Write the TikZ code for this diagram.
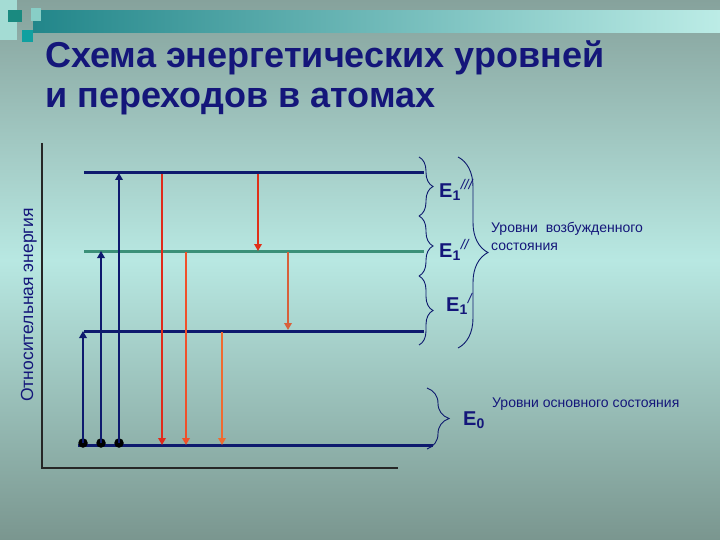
\documentclass[tikz,border=0pt]{standalone}
\usepackage{fontspec}
\setmainfont{Liberation Sans}
\usetikzlibrary{arrows.meta,decorations.pathreplacing}
\definecolor{bgtop}{HTML}{86A29C}
\definecolor{bgmid}{HTML}{B8E8E2}
\definecolor{bgbot}{HTML}{7A968F}
\definecolor{navy}{HTML}{0E1A6E}
\definecolor{txtnavy}{HTML}{14167A}
\definecolor{lvgreen}{HTML}{3A9078}
\definecolor{redA}{HTML}{E02A1A}
\definecolor{redB}{HTML}{F0502A}
\definecolor{redC}{HTML}{F06A30}
\definecolor{redD}{HTML}{E03018}
\definecolor{redE}{HTML}{D8603A}
\definecolor{bandL}{HTML}{22868A}
\definecolor{bandR}{HTML}{BCECE6}
\definecolor{decoA}{HTML}{A4DCD4}
\definecolor{decoB}{HTML}{1A8A80}
\definecolor{decoC}{HTML}{88CEC6}
\definecolor{decoD}{HTML}{10A0A0}
\tikzset{
  level/.style={line width=3pt, navy},
  uparrow/.style={line width=2.6pt, navy, -{Triangle[width=7.5pt,length=7pt]}},
  downarrow/.style={line width=2.6pt, -{Triangle[width=7.5pt,length=7pt]}},
  dot/.style={circle, fill=black, inner sep=0pt, minimum size=9.5pt},
  axisline/.style={line width=1.1pt, black!85},
  bracestyle/.style={line width=0.9pt, navy, decorate},
  elab/.style={font=\fontsize{20}{22}\selectfont\bfseries, text=txtnavy, inner sep=0pt, anchor=base west},
  smalltxt/.style={font=\fontsize{14}{16}\selectfont, text=txtnavy, inner sep=0pt, anchor=base west},
  titletxt/.style={font=\fontsize{36}{40}\selectfont\bfseries, text=txtnavy, inner sep=0pt, anchor=base west}
}
\begin{document}
\begin{tikzpicture}[x=1pt,y=-1pt]
\useasboundingbox (0,0) rectangle (720,540);
% background
\fill[top color=bgtop, bottom color=bgmid] (0,0) rectangle (720,260);
\fill[top color=bgmid, bottom color=bgbot] (0,260) rectangle (720,540);
% top decoration
\fill[left color=bandL, right color=bandR] (33,11) rectangle (720,33);
\fill[decoA] (0,0) rectangle (17,40);
\fill[decoB] (8,10) rectangle (22,22);
\fill[decoC] (31,8) rectangle (41,21);
\fill[decoD] (22,30) rectangle (33,42);
% title
\node[titletxt] (title1) at (45,68) {Схема энергетических уровней};
\node[titletxt] (title2) at (45,108) {и переходов в атомах};
% axes
\coordinate (ytop) at (42,143);
\coordinate (orig) at (42,468);
\coordinate (xend) at (398,468);
\draw[axisline] (ytop) -- (orig) -- (xend);
\node[rotate=90, anchor=base, inner sep=0pt, text=txtnavy, font=\fontsize{17.5}{20}\selectfont] (ylab) at (33,305) {Относительная энергия};
% levels
\coordinate (L3a) at (84,173); \coordinate (L3b) at (424,173);
\coordinate (L2a) at (84,251); \coordinate (L2b) at (424,251);
\coordinate (L1a) at (84,331); \coordinate (L1b) at (424,331);
\coordinate (L0a) at (78,445); \coordinate (L0b) at (433,445);
\draw[level] (L3a) -- (L3b);
\draw[level, lvgreen] (L2a) -- (L2b);
\draw[level] (L1a) -- (L1b);
\draw[level] (L0a) -- (L0b);
% dots
\node[dot] (d1) at (83,443) {};
\node[dot] (d2) at (101,443) {};
\node[dot] (d3) at (119,443) {};
% up arrows
\coordinate (u1) at (83,331);
\coordinate (u2) at (101,251);
\coordinate (u3) at (119,173);
\draw[uparrow] (d1.center) -- (u1);
\draw[uparrow] (d2.center) -- (u2);
\draw[uparrow] (d3.center) -- (u3);
% down arrows
\coordinate (a1s) at (162,174); \coordinate (a1e) at (162,445);
\coordinate (a2s) at (186,252); \coordinate (a2e) at (186,445);
\coordinate (a3s) at (222,332); \coordinate (a3e) at (222,445);
\coordinate (a4s) at (258,174); \coordinate (a4e) at (258,251);
\coordinate (a5s) at (288,252); \coordinate (a5e) at (288,330);
\draw[downarrow, redA] (a1s) -- (a1e);
\draw[downarrow, redB] (a2s) -- (a2e);
\draw[downarrow, redC] (a3s) -- (a3e);
\draw[downarrow, redD] (a4s) -- (a4e);
\draw[downarrow, redE] (a5s) -- (a5e);
% small braces
\coordinate (b1t) at (419,157); \coordinate (b1b) at (419,216);
\coordinate (b2t) at (419,216); \coordinate (b2b) at (419,276);
\coordinate (b3t) at (419,276); \coordinate (b3b) at (419,345);
\draw[bracestyle, decoration={brace, amplitude=14pt}] (b1t) -- (b1b);
\draw[bracestyle, decoration={brace, amplitude=14pt}] (b2t) -- (b2b);
\draw[bracestyle, decoration={brace, amplitude=14pt}] (b3t) -- (b3b);
% big brace
\coordinate (bbt) at (458,157); \coordinate (bbb) at (458,348);
\draw[bracestyle, decoration={brace, amplitude=30pt}] (bbt) -- (bbb);
% ground brace
\coordinate (bgt) at (427,388); \coordinate (bgb) at (427,449);
\draw[bracestyle, decoration={brace, amplitude=22pt}] (bgt) -- (bgb);
% labels
\node[elab] (e3) at (439,197) {E\textsubscript{1}\textsuperscript{\mdseries\itshape ///}};
\node[elab] (e2) at (439,257) {E\textsubscript{1}\textsuperscript{\mdseries\itshape //}};
\node[elab] (e1) at (446,311) {E\textsubscript{1}\textsuperscript{\mdseries\itshape /}};
\node[elab] (e0) at (463,425) {E\textsubscript{0}};
\node[smalltxt] (exc1) at (491,233) {Уровни\ \ возбужденного};
\node[smalltxt] (exc2) at (491,250) {состояния};
\node[smalltxt] (gnd) at (492,407) {Уровни основного состояния};
\end{tikzpicture}
\end{document}
